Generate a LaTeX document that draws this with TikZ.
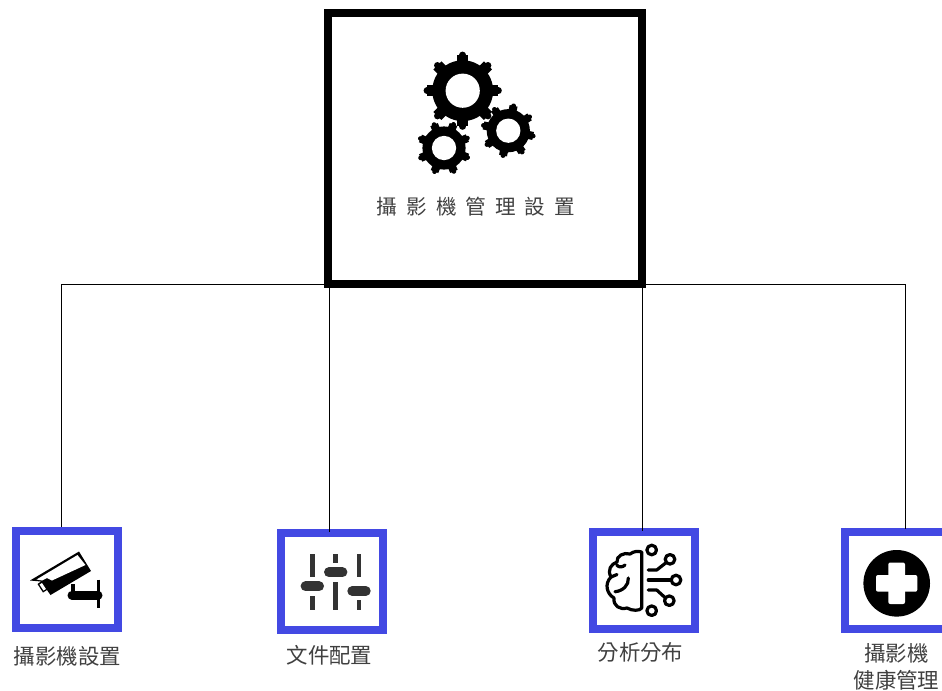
\documentclass[tikz,border=0pt]{standalone}
\usepackage{fontspec}
\newfontfamily\cjk{Noto Sans CJK TC}
\newfontfamily\cjkwide[LetterSpace=44]{Noto Sans CJK TC}
\def\pxu{0.02cm}
\definecolor{boxblue}{RGB}{67,73,227}
\definecolor{labelgray}{gray}{0.25}
\tikzset{>=stealth,
  hubbox/.style={draw=black, line width=8*\pxu, outer sep=0pt, minimum width=314*\pxu, minimum height=270.7*\pxu},
  toolbox/.style={draw=boxblue, line width=8*\pxu, outer sep=0pt, fill=white, minimum width=102*\pxu, minimum height=97*\pxu},
  toollabel/.style={font=\cjk\fontsize{12.2}{15.3}\selectfont, text=labelgray, align=center, inner sep=0pt},
  link/.style={line width=0.5pt, black},
  iconline/.style={line width=3.2*\pxu, line cap=round, line join=round}}
\newcommand{\gearicon}[4]{
  \foreach \a in {0,45,...,315}
  {
  \draw [line width=#4*0.3*\pxu] (#1) -- ++(\a+#3:#4*0.94);
  \draw [line width=#4*0.18*\pxu, line cap=round] (#1) -- ++(\a+#3:#4*0.94);
  }
  \fill (#1) circle (#4*0.8);
  \fill [white] (#1) circle (#4*0.45);
}
\begin{document}
\begin{tikzpicture}[x=\pxu, y=-\pxu]
\clip (0,0) rectangle (942,690);
\node [hubbox] (main) at (485,148.7) {};
\node [toolbox] (cam) at (67.3,579.3) {};
\node [toolbox] (doc) at (331.7,581.3) {};
\node [toolbox] (brain) at (644.3,580.2) {};
\node [toolbox] (health) at (896.3,580.8) {};
\draw [link] (main.south) -| ([shift={(-6.3,-4)}]cam.north);
\draw [link] (main.south) -| ([shift={(-2.7,-1)}]doc.north);
\draw [link] (main.south) -| ([shift={(-2.3,-1)}]brain.north);
\draw [link] (main.south) -| ([shift={(8.7,-3.3)}]health.north);
\gearicon{462.7,90.7}{38}{0}{38}
\gearicon{444,148}{27}{22}{27}
\gearicon{508.3,130.7}{27}{12}{27}
\node [inner sep=0pt, text=labelgray, font=\cjkwide\fontsize{11.7}{14}\selectfont] (maintext) at (476,206.5) {攝影機管理設置};
\node [toollabel] (camtext) at (67.5,656) {攝影機設置};
\node [toollabel] (doctext) at (329.5,655) {文件配置};
\node [toollabel] (braintext) at (640.5,652) {分析分布};
\node [toollabel] (healthtext) at (896.5,666.5) {攝影機\\健康管理};
\fill (30,580.5) -- (79,551.5) -- (91,571) -- (50.5,595) -- (47,590) -- (43,592.5) -- (37.5,584) -- (41,581.5) -- cycle;
\fill [white] (36.5,579.5) -- (77.5,555) -- (85.5,565) -- (52,580.5) -- (47,578) -- (42,580.5) -- cycle;
\fill [white] (39.5,584.5) -- (42,583) -- (46,589) -- (43.5,590.5) -- cycle;
\draw [line width=9*\pxu, line cap=round] (72,595) -- (98,595);
\draw [line width=3*\pxu] (98.3,579.5) -- (98.3,608);
\draw [line width=3.5*\pxu] (73,584) -- (73,592);
\foreach \x/\a/\k/\b in {312.3/576.7/586.3/595.7,335.7/563.3/572.3/581.7,359/576.7/591/600}
{
\draw [line width=4.7*\pxu, black!80] (\x,554) -- (\x,\a);
\draw [line width=4.7*\pxu, black!80] (\x,609.7) -- (\x,\b);
\draw [line width=10*\pxu, black!80, line cap=round] (\x-6.7,\k) -- (\x+6.7,\k);
}
\draw [iconline] (641.7,552) -- (641.7,608) .. controls (640,611) and (632,611) .. (627,608) .. controls (620,610) and (613,606) .. (614,598) .. controls (607,594) and (604,584) .. (611,577) .. controls (607,570) and (611,564) .. (617,562) .. controls (616,556) and (624,552) .. (630,554) .. controls (634,551) and (638,551) .. (641.7,552);
\draw [iconline] (616.7,565) .. controls (619,568) and (623,567) .. (625,565);
\draw [iconline] (628.3,578) .. controls (629,585) and (623,591) .. (615,591.7);
\draw [iconline] (611,577) -- (617,574.5);
\foreach \x/\y in {651.7/550,670/559.3,676/580,669.3/600.7,651.7/610.7}
\draw [iconline] (\x,\y) circle (4.8);
\draw [iconline] (648.3,570) -- (656.7,570) -- (666.3,562.5);
\draw [iconline] (648.3,580) -- (671,580);
\draw [iconline] (648.3,590) -- (656.7,590) -- (665.5,598);
\fill (896.7,583.3) circle (33.3);
\fill [white, rounded corners=2*\pxu] (888.3,562.5) rectangle (905,604);
\fill [white, rounded corners=2*\pxu] (876,575) rectangle (917.3,591.7);
\end{tikzpicture}
\end{document}
